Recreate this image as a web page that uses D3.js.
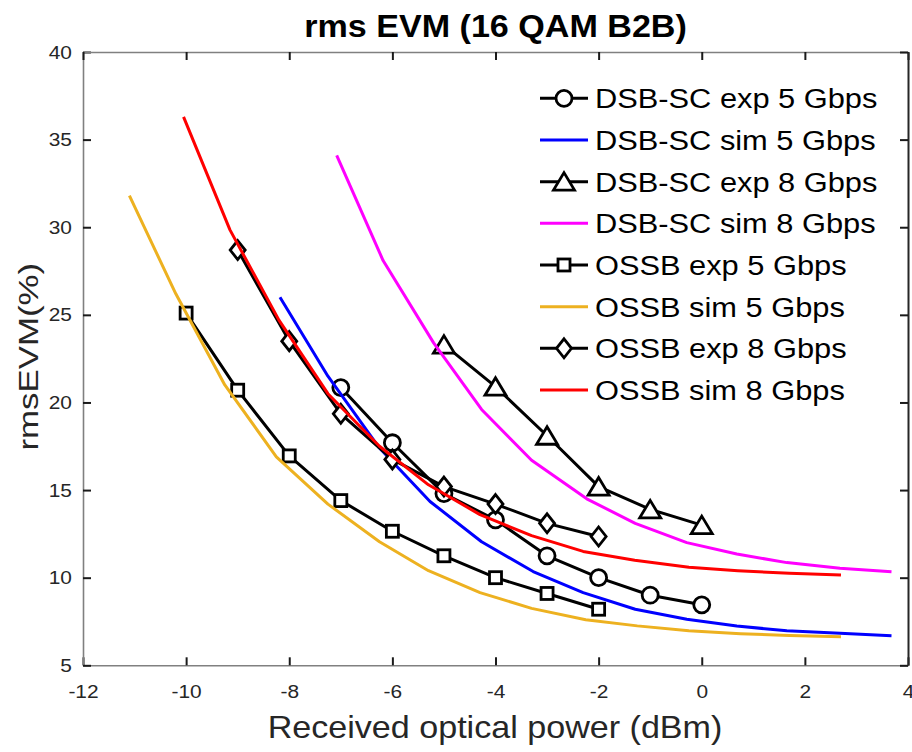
<!DOCTYPE html>
<html>
<head>
<meta charset="utf-8">
<script src="https://cdn.jsdelivr.net/npm/d3@7"></script>
<style>
    body { margin: 0; background: #fff; }
    svg { display: block; }
    svg text { font-family: "Liberation Sans", Arial, Helvetica, sans-serif; }
</style>
</head>
<body>
<svg id="grafic" width="912" height="752"></svg>
<script>
// ------------------DATA------------------
// received optical power (dBm) of the measured points
var potDsbExp5 = [-7, -6, -5, -4, -3, -2, -1, 0];
var potDsbExp8 = [-5, -4, -3, -2, -1, 0];
var potOssbExp5 = [-10, -9, -8, -7, -6, -5, -4, -3, -2];
var potOssbExp8 = [-9, -8, -7, -6, -5, -4, -3, -2];
// rms EVM (%) of the measured points
var evmDsbExp5 = [20.85, 17.7, 14.8, 13.3, 11.25, 10.0, 9.0, 8.45];
var evmDsbExp8 = [23.3, 20.9, 18.1, 15.2, 13.9, 13.0];
var evmOssbExp5 = [25.1, 20.7, 16.95, 14.4, 12.65, 11.25, 10.0, 9.1, 8.2];
var evmOssbExp8 = [28.7, 23.5, 19.35, 16.75, 15.2, 14.2, 13.1, 12.35];

// simulated curves
var potDsbSim5 = [-8.18, -7.25, -6.25, -5.27, -4.27, -3.27, -2.3, -1.29, -0.29, 0.68, 1.65, 2.68, 3.68];
var evmDsbSim5 = [26.0, 21.5, 17.4, 14.35, 12.05, 10.35, 9.15, 8.2, 7.63, 7.24, 6.97, 6.83, 6.69];
var potDsbSim8 = [-7.08, -6.18, -5.2, -4.27, -3.3, -2.23, -1.29, -0.29, 0.68, 1.65, 2.68, 3.68];
var evmDsbSim8 = [34.1, 28.1, 23.4, 19.6, 16.7, 14.5, 13.1, 12.0, 11.35, 10.86, 10.54, 10.34];
var potOssbSim5 = [-11.1, -10.2, -9.25, -8.25, -7.25, -6.25, -5.3, -4.3, -3.3, -2.25, -1.25, -0.25, 0.75, 1.7, 2.7];
var evmOssbSim5 = [31.8, 26.2, 21.0, 16.9, 14.2, 12.05, 10.4, 9.15, 8.25, 7.6, 7.25, 6.97, 6.8, 6.7, 6.63];
var potOssbSim8 = [-10.05, -9.15, -8.2, -7.25, -6.25, -5.3, -4.3, -3.3, -2.3, -1.3, -0.25, 0.7, 1.7, 2.7];
var evmOssbSim8 = [36.3, 29.85, 24.7, 20.5, 17.5, 15.3, 13.6, 12.4, 11.5, 11.0, 10.6, 10.4, 10.25, 10.15];

// series names in legend order
var nomsSeries = ["DSB-SC exp 5 Gbps", "DSB-SC sim 5 Gbps", "DSB-SC exp 8 Gbps", "DSB-SC sim 8 Gbps",
    "OSSB exp 5 Gbps", "OSSB sim 5 Gbps", "OSSB exp 8 Gbps", "OSSB sim 8 Gbps"];
var ticksX = [-12, -10, -8, -6, -4, -2, 0, 2, 4];
var ticksY = [5, 10, 15, 20, 25, 30, 35, 40];
var titol = "rms EVM (16 QAM B2B)";
var etiquetaX = "Received optical power (dBm)";
var etiquetaY = "rmsEVM(%)";

// ------------------VARIABLES------------------
var svg = d3.select("#grafic");
var marge = { left: 83, right: 908, top: 52, bottom: 665.3 };
var x = d3.scaleLinear().domain([-12, 4]).range([marge.left, marge.right]);
var y = d3.scaleLinear().domain([5, 40]).range([marge.bottom, marge.top]);
var colorText = "#262626";
// the original figure has slightly wide letters
var estirar = 1.1;

// each series: x, y, colour and marker
var series = [
    { x: potDsbExp5, y: evmDsbExp5, color: "#000", marca: "cercle" },
    { x: potDsbSim5, y: evmDsbSim5, color: "#0000ff", marca: null },
    { x: potDsbExp8, y: evmDsbExp8, color: "#000", marca: "triangle" },
    { x: potDsbSim8, y: evmDsbSim8, color: "#ff00ff", marca: null },
    { x: potOssbExp5, y: evmOssbExp5, color: "#000", marca: "quadrat" },
    { x: potOssbSim5, y: evmOssbSim5, color: "#edb120", marca: null },
    { x: potOssbExp8, y: evmOssbExp8, color: "#000", marca: "diamant" },
    { x: potOssbSim8, y: evmOssbSim8, color: "#ff0000", marca: null }
];

// ------------------FUNCIONS------------------
// draws a marker centred on (cx, cy)
function dibuixarMarca(g, tipus, cx, cy) {
    let m;
    if (tipus == "cercle") {
        m = g.append("circle").attr("cx", cx).attr("cy", cy).attr("r", 8);
    } else if (tipus == "triangle") {
        m = g.append("path").attr("d", `M${cx},${cy - 9}L${cx + 10.5},${cy + 8.5}L${cx - 10.5},${cy + 8.5}Z`);
    } else if (tipus == "quadrat") {
        m = g.append("rect").attr("x", cx - 6).attr("y", cy - 6).attr("width", 12).attr("height", 12);
    } else {
        m = g.append("path").attr("d", `M${cx},${cy - 9.5}L${cx + 7.5},${cy}L${cx},${cy + 9.5}L${cx - 7.5},${cy}Z`);
    }
    m.style("fill", "#fff").style("stroke", "#000").style("stroke-width", 2.8);
}

// moves the x/y of a tick label into a transform so it can be stretched
function estirarText(sel) {
    sel.each(function () {
        let t = d3.select(this);
        let tx = +t.attr("x") || 0;
        let ty = +t.attr("y") || 0;
        t.attr("x", 0).attr("y", 0).attr("transform", `translate(${tx},${ty}) scale(${estirar},1)`);
    });
}

// axes with inward ticks, like the box of the original figure
function dibuixarEixos() {
    let format = d => String(d);
    let eixX = svg.append("g").attr("transform", `translate(0,${marge.bottom})`)
        .call(d3.axisBottom(x).tickValues(ticksX).tickFormat(format).tickSizeInner(-8).tickSizeOuter(0).tickPadding(19));
    let eixY = svg.append("g").attr("transform", `translate(${marge.left},0)`)
        .call(d3.axisLeft(y).tickValues(ticksY).tickFormat(format).tickSizeInner(-8).tickSizeOuter(0).tickPadding(11));
    let eixDalt = svg.append("g").attr("transform", `translate(0,${marge.top})`)
        .call(d3.axisTop(x).tickValues(ticksX).tickSizeInner(-8).tickSizeOuter(0).tickFormat(""));
    let eixDreta = svg.append("g").attr("transform", `translate(${marge.right},0)`)
        .call(d3.axisRight(y).tickValues(ticksY).tickSizeInner(-8).tickSizeOuter(0).tickFormat(""));
    [eixX, eixY, eixDalt].forEach(function (e) {
        e.select(".domain").attr("stroke", "#808080").attr("stroke-width", 1.6);
    });
    eixDreta.select(".domain").attr("stroke", "#262626").attr("stroke-width", 2);
    [eixX, eixY, eixDalt, eixDreta].forEach(function (e) {
        e.selectAll(".tick line").attr("stroke", "#1a1a1a").attr("stroke-width", 2);
        e.selectAll(".tick text").attr("fill", colorText).style("font-size", "19px");
    });
    estirarText(eixX.selectAll(".tick text"));
    estirarText(eixY.selectAll(".tick text"));
}

// lines and markers of every series
function dibuixarSeries() {
    let linia = d3.line().x(d => x(d[0])).y(d => y(d[1]));
    series.forEach(function (s) {
        let punts = s.x.map((v, i) => [v, s.y[i]]);
        let g = svg.append("g");
        g.append("path").datum(punts).attr("d", linia)
            .style("fill", "none").style("stroke", s.color).style("stroke-width", 3)
            .style("stroke-linejoin", "round");
        if (s.marca) {
            punts.forEach(p => dibuixarMarca(g, s.marca, x(p[0]), y(p[1])));
        }
    });
}

// legend without box, at the top right
function dibuixarLlegenda() {
    series.forEach(function (s, i) {
        let fy = 98.3 + i * 41.67;
        let g = svg.append("g");
        g.append("line").attr("x1", 540).attr("x2", 588).attr("y1", fy).attr("y2", fy)
            .style("stroke", s.color).style("stroke-width", 3);
        if (s.marca) {
            dibuixarMarca(g, s.marca, 564, fy);
        }
        g.append("text").attr("transform", `translate(595,${fy + 10}) scale(${estirar},1)`)
            .style("font-size", "28px").style("fill", "#000").text(nomsSeries[i]);
    });
}

// title and axis labels
function dibuixarTextos() {
    svg.append("text").attr("transform", `translate(495.5,36.7) scale(${estirar},1)`)
        .attr("text-anchor", "middle").style("font-size", "31px").style("font-weight", "bold")
        .style("fill", "#000").text(titol);
    svg.append("text").attr("transform", `translate(495,738.3) scale(${estirar},1)`)
        .attr("text-anchor", "middle").style("font-size", "31px").style("fill", colorText).text(etiquetaX);
    svg.append("text").attr("transform", "translate(37.7,356.7) rotate(-90) scale(1.245,1)")
        .attr("text-anchor", "middle").style("font-size", "28px").style("fill", colorText).text(etiquetaY);
}

// ------------------MAIN------------------
dibuixarSeries();
dibuixarEixos();
dibuixarLlegenda();
dibuixarTextos();
</script>
</body>
</html>
